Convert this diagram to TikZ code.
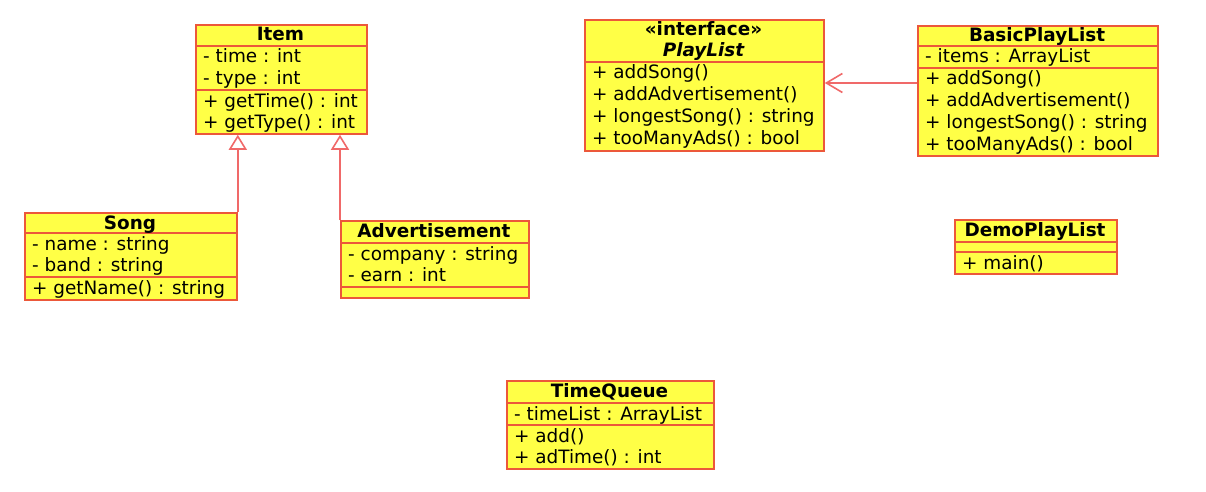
\documentclass[tikz,border=0pt]{standalone}
\usepackage{fontspec}
\setmainfont{DejaVu Sans}
\usetikzlibrary{arrows.meta}
\definecolor{umlfill}{RGB}{255,255,70}
\definecolor{umlborder}{RGB}{236,88,58}
\definecolor{umlline}{RGB}{240,105,105}
\tikzset{
  cbox/.style={draw=umlborder, fill=umlfill, line width=1.8pt, inner sep=0pt, anchor=north west},
  sepline/.style={draw=umlborder, line width=1.6pt},
  txt/.style={inner sep=0pt, anchor=base west, font=\fontsize{18.4}{21.8}\selectfont},
  ttl/.style={inner sep=0pt, anchor=base, font=\fontsize{18.4}{21.8}\selectfont\bfseries},
  gen/.style={draw=umlline, line width=1.8pt, -{Triangle[open, length=15pt, width=18pt, line width=1.6pt]}},
  assoc/.style={draw=umlline, line width=1.8pt, -{Straight Barb[length=16pt, width=19pt, line width=1.6pt]}}
}
\begin{document}
\begin{tikzpicture}[x=1pt,y=-1pt]
\fill[white] (0,0) rectangle (1206,492);
\useasboundingbox (0,0) rectangle (1206,492);

% Item
\node[cbox, minimum width=171pt, minimum height=109pt] (item) at (195,24) {};
\draw[sepline] (195,46) -- (366,46);
\draw[sepline] (195,90) -- (366,90);
\node[ttl] (item-t) at (280.5,41) {Item};
\node[txt] (item-a1) at (203,63) {- time : int};
\node[txt] (item-a2) at (203,84.8) {- type : int};
\node[txt] (item-m1) at (203,107) {+ getTime() : int};
\node[txt] (item-m2) at (203,128.8) {+ getType() : int};

% PlayList
\node[cbox, minimum width=239pt, minimum height=131pt] (playlist) at (584,19) {};
\draw[sepline] (584,62) -- (823,62);
\node[ttl] (pl-s) at (703.5,36) {«interface»};
\node[ttl, font=\fontsize{18.4}{21.8}\selectfont\bfseries\itshape] (pl-t) at (703.5,56.5) {PlayList};
\node[txt] (pl-m1) at (592,79) {+ addSong()};
\node[txt] (pl-m2) at (592,100.8) {+ addAdvertisement()};
\node[txt] (pl-m3) at (592,122.6) {+ longestSong() : string};
\node[txt] (pl-m4) at (592,144.4) {+ tooManyAds() : bool};

% BasicPlayList
\node[cbox, minimum width=240pt, minimum height=130pt] (basic) at (917,25) {};
\draw[sepline] (917,46) -- (1157,46);
\draw[sepline] (917,68) -- (1157,68);
\node[ttl] (bp-t) at (1037,42) {BasicPlayList};
\node[txt] (bp-a1) at (925,63) {- items : ArrayList};
\node[txt] (bp-m1) at (925,85) {+ addSong()};
\node[txt] (bp-m2) at (925,106.8) {+ addAdvertisement()};
\node[txt] (bp-m3) at (925,128.6) {+ longestSong() : string};
\node[txt] (bp-m4) at (925,150.4) {+ tooManyAds() : bool};

% Song
\node[cbox, minimum width=212pt, minimum height=87pt] (song) at (24,212) {};
\draw[sepline] (24,233) -- (236,233);
\draw[sepline] (24,277) -- (236,277);
\node[ttl] (song-t) at (130,229) {Song};
\node[txt] (song-a1) at (32,250) {- name : string};
\node[txt] (song-a2) at (32,271.8) {- band : string};
\node[txt] (song-m1) at (32,294) {+ getName() : string};

% Advertisement
\node[cbox, minimum width=188pt, minimum height=77pt] (adv) at (340,220) {};
\draw[sepline] (340,243) -- (528,243);
\draw[sepline] (340,287) -- (528,287);
\node[ttl] (adv-t) at (434,237) {Advertisement};
\node[txt] (adv-a1) at (348,260) {- company : string};
\node[txt] (adv-a2) at (348,281.8) {- earn : int};

% DemoPlayList
\node[cbox, minimum width=162pt, minimum height=54pt] (demo) at (954,219) {};
\draw[sepline] (954,242) -- (1116,242);
\draw[sepline] (954,252) -- (1116,252);
\node[ttl] (demo-t) at (1035,236) {DemoPlayList};
\node[txt] (demo-m1) at (962,269) {+ main()};

% TimeQueue
\node[cbox, minimum width=207pt, minimum height=88pt] (tq) at (506,380) {};
\draw[sepline] (506,403) -- (713,403);
\draw[sepline] (506,425) -- (713,425);
\node[ttl] (tq-t) at (609.5,397) {TimeQueue};
\node[txt] (tq-a1) at (514,420) {- timeList : ArrayList};
\node[txt] (tq-m1) at (514,442) {+ add()};
\node[txt] (tq-m2) at (514,463.8) {+ adTime() : int};

% connectors
\draw[gen] (song.north east) -- (song.north east |- item.south);
\draw[gen] (adv.north west) -- (adv.north west |- item.south);
\draw[assoc] (basic.west |- 0,83) -- (playlist.east |- 0,83);
\end{tikzpicture}
\end{document}
